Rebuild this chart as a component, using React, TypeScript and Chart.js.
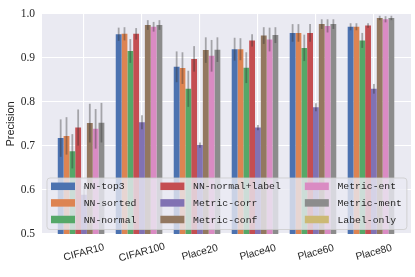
import React, { useEffect, useRef } from 'react';
import { Chart, registerables } from 'chart.js';
Chart.register(...registerables);

const categories = ['CIFAR10', 'CIFAR100', 'Place20', 'Place40', 'Place60', 'Place80'];
const seriesNames = ['NN-top3', 'NN-sorted', 'NN-normal', 'NN-normal+label', 'Metric-corr', 'Metric-conf', 'Metric-ent', 'Metric-ment', 'Label-only'];
const seriesColors = ['#4C72B0', '#DD8452', '#55A868', '#C44E52', '#8172B3', '#937860', '#DA8BC3', '#8C8C8C', '#CCB974'];

const nnTop3 = [0.718, 0.954, 0.880, 0.920, 0.957, 0.971];
const nnSorted = [0.723, 0.955, 0.877, 0.920, 0.957, 0.971];
const nnNormal = [0.688, 0.916, 0.830, 0.878, 0.923, 0.940];
const nnNormalLabel = [0.742, 0.955, 0.898, 0.940, 0.957, 0.974];
const metricCorr = [0.589, 0.754, 0.702, 0.742, 0.788, 0.830];
const metricConf = [0.752, 0.975, 0.918, 0.951, 0.977, 0.991];
const metricEnt = [0.739, 0.971, 0.905, 0.942, 0.973, 0.988];
const metricMent = [0.753, 0.975, 0.919, 0.952, 0.977, 0.991];
const labelOnly = [null, null, null, null, null, null];

const nnTop3Err = [0.0425, 0.015, 0.035, 0.026, 0.020, 0.008];
const nnSortedErr = [0.0425, 0.015, 0.036, 0.025, 0.020, 0.008];
const nnNormalErr = [0.039, 0.027, 0.041, 0.035, 0.030, 0.017];
const nnNormalLabelErr = [0.041, 0.013, 0.029, 0.014, 0.020, 0.005];
const metricCorrErr = [0.02, 0.016, 0.006, 0.006, 0.009, 0.011];
const metricConfErr = [0.044, 0.011, 0.029, 0.019, 0.011, 0.005];
const metricEntErr = [0.045, 0.011, 0.036, 0.027, 0.015, 0.007];
const metricMentErr = [0.045, 0.011, 0.028, 0.018, 0.011, 0.005];
const labelOnlyErr = [null, null, null, null, null, null];

const seriesValues = [nnTop3, nnSorted, nnNormal, nnNormalLabel, metricCorr, metricConf, metricEnt, metricMent, labelOnly];
const seriesErrors = [nnTop3Err, nnSortedErr, nnNormalErr, nnNormalLabelErr, metricCorrErr, metricConfErr, metricEntErr, metricMentErr, labelOnlyErr];

const yTicks = [0.5, 0.6, 0.7, 0.8, 0.9, 1.0];
const yTitle = 'Precision';

const TEXT = '#262626';

const bgPlugin = {
  id: 'bgPlugin',
  beforeDraw(chart: any) {
    const { ctx, chartArea: a } = chart;
    ctx.save();
    ctx.fillStyle = '#EAEAF2';
    ctx.fillRect(a.left, a.top, a.right - a.left, a.bottom - a.top);
    ctx.restore();
  },
};

const overlayPlugin = {
  id: 'overlayPlugin',
  afterDatasetsDraw(chart: any) {
    const { ctx } = chart;
    const yScale = chart.scales.y;
    // error bars
    ctx.save();
    ctx.strokeStyle = 'rgba(50,50,50,0.38)';
    ctx.lineWidth = 1.8;
    seriesValues.forEach((vals, d) => {
      const meta = chart.getDatasetMeta(d);
      vals.forEach((v, j) => {
        const e = seriesErrors[d][j];
        if (v == null || e == null) return;
        const bar = meta.data[j];
        if (!bar) return;
        const y1 = yScale.getPixelForValue(v + e);
        const y2 = yScale.getPixelForValue(v - e);
        ctx.beginPath();
        ctx.moveTo(bar.x, y1);
        ctx.lineTo(bar.x, y2);
        ctx.stroke();
      });
    });
    ctx.restore();

    // legend
    ctx.save();
    const font = '9.75px "Liberation Mono", "DejaVu Sans Mono", monospace';
    ctx.font = font;
    const rows = 3;
    const cols = Math.ceil(seriesNames.length / rows);
    const boxLeft = 47;
    const boxTop = 178;
    const boxBottom = 229.5;
    const pad = 4;
    const swW = 24;
    const swH = 7.5;
    const gap = 8.7;
    const colSep = 24;
    const rowY0 = 186.3;
    const rowStep = 16.6;
    const colX: number[] = [];
    let x = boxLeft + pad;
    for (let c = 0; c < cols; c++) {
      colX.push(x);
      let maxW = 0;
      for (let r = 0; r < rows; r++) {
        const idx = c * rows + r;
        if (idx < seriesNames.length) maxW = Math.max(maxW, ctx.measureText(seriesNames[idx]).width);
      }
      x += swW + gap + maxW + colSep;
    }
    const boxRight = x - colSep + 5;
    const r = 3;
    ctx.beginPath();
    ctx.moveTo(boxLeft + r, boxTop);
    ctx.lineTo(boxRight - r, boxTop);
    ctx.arcTo(boxRight, boxTop, boxRight, boxTop + r, r);
    ctx.lineTo(boxRight, boxBottom - r);
    ctx.arcTo(boxRight, boxBottom, boxRight - r, boxBottom, r);
    ctx.lineTo(boxLeft + r, boxBottom);
    ctx.arcTo(boxLeft, boxBottom, boxLeft, boxBottom - r, r);
    ctx.lineTo(boxLeft, boxTop + r);
    ctx.arcTo(boxLeft, boxTop, boxLeft + r, boxTop, r);
    ctx.closePath();
    ctx.fillStyle = 'rgba(234,234,242,0.8)';
    ctx.fill();
    ctx.strokeStyle = 'rgba(204,204,204,0.8)';
    ctx.lineWidth = 1;
    ctx.stroke();

    ctx.textAlign = 'left';
    ctx.textBaseline = 'middle';
    for (let c = 0; c < cols; c++) {
      for (let rr = 0; rr < rows; rr++) {
        const idx = c * rows + rr;
        if (idx >= seriesNames.length) continue;
        const cy = rowY0 + rr * rowStep;
        ctx.fillStyle = seriesColors[idx];
        ctx.fillRect(colX[c], cy - swH / 2, swW, swH);
        ctx.fillStyle = TEXT;
        ctx.fillText(seriesNames[idx], colX[c] + swW + gap, cy + 0.5);
      }
    }
    ctx.restore();
  },
  afterDraw(chart: any) {
    const { ctx, chartArea: a } = chart;
    const xScale = chart.scales.x;
    ctx.save();
    ctx.fillStyle = TEXT;
    ctx.font = '10.3px "Liberation Sans", Arial, sans-serif';
    ctx.textAlign = 'center';
    ctx.textBaseline = 'middle';
    categories.forEach((c, i) => {
      const px = xScale.getPixelForValue(i);
      ctx.save();
      ctx.translate(px, a.bottom + 18.5);
      ctx.rotate((-15 * Math.PI) / 180);
      ctx.fillText(c, 0, 0);
      ctx.restore();
    });
    ctx.font = '11px "Liberation Sans", Arial, sans-serif';
    ctx.save();
    ctx.translate(10.5, (a.top + a.bottom) / 2);
    ctx.rotate(-Math.PI / 2);
    ctx.fillText(yTitle, 0, 0);
    ctx.restore();
    ctx.restore();
  },
};

export default function App() {
  const ref = useRef<HTMLCanvasElement | null>(null);
  useEffect(() => {
    document.body.style.margin = '0';
    const canvas = ref.current;
    if (!canvas) return;
    const chart = new Chart(canvas, {
      type: 'bar',
      data: {
        datasets: seriesNames.map((name, d) => ({
          label: name,
          data: categories.map((_, i) => ({ x: i, y: seriesValues[d][i] })) as any,
          backgroundColor: seriesColors[d],
          borderWidth: 0,
          categoryPercentage: 0.904,
          barPercentage: 1,
        })),
      },
      options: {
        responsive: false,
        animation: false,
        devicePixelRatio: 1,
        layout: { padding: { top: 14, right: 4, left: 0, bottom: 0 } },
        plugins: { legend: { display: false }, tooltip: { enabled: false } },
        scales: {
          x: {
            type: 'linear',
            min: -0.724,
            max: 5.64,
            offset: false,
            grid: { color: '#FFFFFF', lineWidth: 1.1, drawTicks: false, offset: false },
            border: { display: false },
            ticks: { display: false },
            afterBuildTicks: (scale: any) => {
              scale.ticks = categories.map((_, i) => ({ value: i }));
            },
            afterFit: (scale: any) => {
              scale.height = 43;
            },
          },
          y: {
            type: 'linear',
            min: 0.5,
            max: 1.0,
            grid: { color: '#FFFFFF', lineWidth: 1.1, drawTicks: false },
            border: { display: false },
            ticks: {
              padding: 7,
              color: TEXT,
              font: { family: '"Liberation Serif", "Times New Roman", serif', size: 11.5 },
              callback: (v: any) => Number(v).toFixed(1),
            },
            afterBuildTicks: (scale: any) => {
              scale.ticks = yTicks.map((v) => ({ value: v }));
            },
            afterFit: (scale: any) => {
              scale.width = 42;
            },
          },
        },
      } as any,
      plugins: [bgPlugin, overlayPlugin],
    });
    return () => chart.destroy();
  }, []);
  return <canvas ref={ref} width={415} height={277} style={{ display: 'block' }} />;
}
